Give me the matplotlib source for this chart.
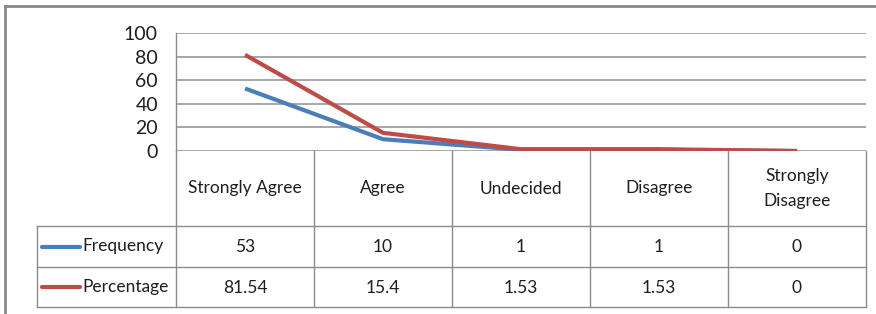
import matplotlib
matplotlib.use("Agg")
import matplotlib.pyplot as plt

categories = ["Strongly Agree", "Agree", "Undecided", "Disagree", "Strongly\nDisagree"]
frequency = [53, 10, 1, 1, 0]
percentage = [81.54, 15.4, 1.53, 1.53, 0]
series_names = ["Frequency", "Percentage"]
y_ticks = [0, 20, 40, 60, 80, 100]

COLOR_FREQ = "#4a7ebb"
COLOR_PCT = "#be4b48"
COLOR_GRID = "#a6a6a6"
COLOR_TABLE = "#8c8c8c"
COLOR_TEXT = "#1e1e1e"
FONT = "Lato"

W, H = 876, 314
fig = plt.figure(figsize=(W / 100, H / 100), dpi=100)
fig.patch.set_facecolor("white")

# pixel layout of the Excel-style chart
PL, PR, PT, PB = 176, 866, 33, 151
HEAD_B, ROW1_B, ROW2_B = 226, 267, 307
LAB_L = 37

ax = fig.add_axes([PL / W, 1 - PB / H, (PR - PL) / W, (PB - PT) / H])
n = len(categories)
xs = list(range(n))
ax.plot(xs, frequency, color=COLOR_FREQ, linewidth=3, solid_capstyle="butt", zorder=3)
ax.plot(xs, percentage, color=COLOR_PCT, linewidth=3, solid_capstyle="butt", zorder=4)
ax.set_xlim(-0.5, n - 0.5)
ax.set_ylim(0, 100)
ax.set_yticks(y_ticks)
ax.set_xticks([])
ax.grid(axis="y", color=COLOR_GRID, linewidth=1.4, zorder=0)
ax.set_axisbelow(True)
for s in ("top", "right", "bottom"):
    ax.spines[s].set_visible(False)
ax.spines["left"].set_color(COLOR_TABLE)
ax.spines["left"].set_linewidth(1)
ax.tick_params(axis="y", length=0, pad=13, labelsize=14, labelcolor=COLOR_TEXT)
for lab in ax.get_yticklabels():
    lab.set_fontfamily(FONT)

# overlay in pixel coordinates for the data table and chart frame
ov = fig.add_axes([0, 0, 1, 1], facecolor="none")
ov.set_xlim(0, W)
ov.set_ylim(H, 0)
ov.axis("off")

# chart frame (cut by the image edges)
ov.plot([5, 5], [6, H], color="#888888", linewidth=2)
ov.plot([5, W], [6, 6], color="#888888", linewidth=2)

col_w = (PR - PL) / n
# vertical lines
for i in range(n + 1):
    x = PL + i * col_w
    ov.plot([x, x], [PB, ROW2_B], color=COLOR_TABLE, linewidth=1)
ov.plot([LAB_L, LAB_L], [HEAD_B, ROW2_B], color=COLOR_TABLE, linewidth=1)
# horizontal lines
for y in (HEAD_B, ROW1_B, ROW2_B):
    ov.plot([LAB_L, PR], [y, y], color=COLOR_TABLE, linewidth=1)

for i, cat in enumerate(categories):
    cx = PL + (i + 0.5) * col_w
    ov.text(cx, (PB + HEAD_B) / 2, cat, ha="center", va="center", fontsize=12.5,
            family=FONT, color=COLOR_TEXT, linespacing=1.75)

rows = [(frequency, COLOR_FREQ, (HEAD_B + ROW1_B) / 2),
        (percentage, COLOR_PCT, (ROW1_B + ROW2_B) / 2)]
for name, (vals, col, cy) in zip(series_names, rows):
    ov.plot([42, 80], [cy, cy], color=col, linewidth=3, solid_capstyle="round")
    ov.text(82, cy, name, ha="left", va="center", fontsize=12.5, family=FONT, color=COLOR_TEXT)
    for i, v in enumerate(vals):
        cx = PL + (i + 0.5) * col_w
        ov.text(cx, cy + 1, f"{v:g}", ha="center", va="center", fontsize=12.5,
                family=FONT, color=COLOR_TEXT)

fig.savefig("out.png", dpi=100, facecolor="white")
